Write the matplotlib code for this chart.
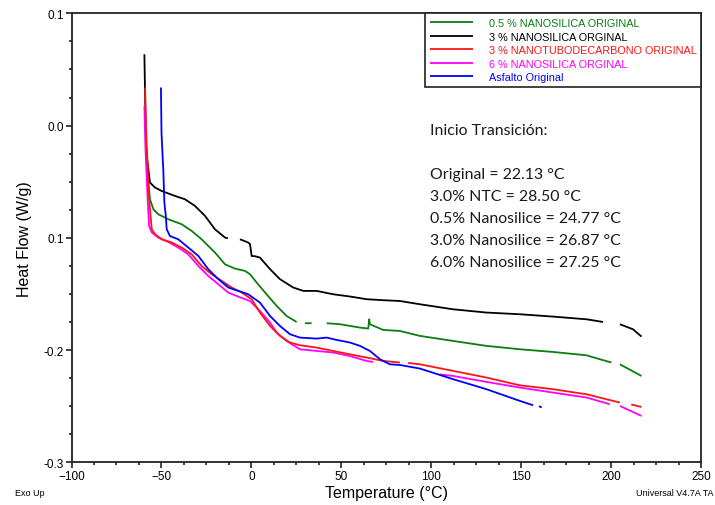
import numpy as np
import matplotlib
matplotlib.use("Agg")
import matplotlib.pyplot as plt
from matplotlib.ticker import MultipleLocator, FixedLocator, FixedFormatter

nan = np.nan

# DSC heat-flow traces (Temperature °C, Heat Flow W/g); nan marks breaks in a trace
t_black = [-59.5, -58.6, -57.3, -56.4, -53.6, -49.9, -42.5, -36.9, -31.4, -25.8, -20.3, -14.7, -13.1, -10.0,
           -6.4, -1.8, -0.8, 0.1, 1.9, 4.7, 10.3, 15.8, 23.2, 28.8, 36.2, 45.4, 54.7, 64.0, 73.2, 82.5,
           93.6, 112.1, 130.6, 149.1, 167.6, 186.2, 195.4, 200.0, 204.7, 212.0, 216.7]
hf_black = [0.0635, -0.021, -0.0389, -0.0508, -0.0552, -0.0583, -0.0627, -0.0657, -0.0716, -0.0805, -0.0924,
            -0.0998, -0.1004, nan, -0.1013, -0.1042, -0.1057, -0.1162, -0.1164, -0.1176, -0.1279, -0.1368,
            -0.1443, -0.1473, -0.1473, -0.1503, -0.1523, -0.1547, -0.1556, -0.1563, -0.1592, -0.1637,
            -0.1666, -0.1681, -0.1702, -0.1726, -0.1750, nan, -0.1770, -0.1815, -0.1880]

t_green = [-57.8, -57.3, -56.4, -54.5, -51.8, -46.2, -38.8, -33.2, -27.7, -20.3, -14.7, -9.2, -3.6, -0.8,
           2.9, 8.4, 14.0, 19.5, 25.1, 27.5, 29.7, 33.4, 37.5, 41.8, 49.2, 60.3, 64.9, 65.4, 65.8, 73.2,
           82.5, 93.6, 112.1, 130.6, 149.1, 167.6, 186.2, 193.6, 200.0, 202.0, 204.7, 216.7]
hf_green = [-0.0407, -0.0508, -0.0657, -0.0746, -0.0790, -0.0835, -0.0879, -0.0939, -0.1013, -0.1131,
            -0.1236, -0.1274, -0.1295, -0.1325, -0.1399, -0.1503, -0.1607, -0.1696, -0.1750, nan,
            -0.1761, -0.1761, nan, -0.1761, -0.1770, -0.1800, -0.1808, -0.1726, -0.1770, -0.1821,
            -0.1830, -0.1874, -0.1919, -0.1963, -0.1993, -0.2017, -0.2047, -0.2082, -0.2111, nan,
            -0.2127, -0.2231]

t_red = [-59.1, -58.6, -57.6, -57.3, -56.4, -55.4, -53.6, -49.9, -44.3, -38.8, -33.2, -27.7, -22.1, -16.5,
         -11.0, -5.4, 0.1, 4.7, 10.3, 15.8, 21.4, 26.9, 36.2, 45.4, 54.7, 64.0, 73.2, 82.5, 85.0, 87.0,
         93.6, 112.1, 130.6, 149.1, 167.6, 186.2, 204.7, 208.0, 211.0, 216.7]
hf_red = [0.0339, -0.0033, -0.0389, -0.0567, -0.0746, -0.0924, -0.0968, -0.1013, -0.1042, -0.1087, -0.1147,
          -0.1251, -0.1325, -0.1384, -0.1443, -0.1488, -0.1547, -0.1666, -0.1785, -0.1874, -0.1933, -0.1957,
          -0.1978, -0.2008, -0.2038, -0.2067, -0.2097, -0.2111, nan, -0.2115, -0.2127, -0.2186, -0.2245,
          -0.2314, -0.2349, -0.2394, -0.2468, nan, -0.2485, -0.2507]

t_mag = [-59.5, -58.9, -57.6, -56.9, -55.4, -51.8, -46.2, -40.7, -35.1, -29.5, -24.0, -18.4, -12.9, -6.4,
         -0.8, 4.7, 10.3, 14.0, 19.5, 26.9, 36.2, 45.4, 54.7, 64.0, 67.6, 80.0, 104.8, 112.1, 130.6, 149.1,
         167.6, 186.2, 199.1, 201.5, 204.7, 216.7]
hf_mag = [0.0175, -0.0211, -0.0686, -0.0894, -0.0953, -0.0998, -0.1037, -0.1087, -0.1147, -0.1251, -0.1340,
          -0.1414, -0.1488, -0.1530, -0.1563, -0.1652, -0.1755, -0.1844, -0.1919, -0.1993, -0.2008, -0.2022,
          -0.2053, -0.2097, -0.2106, nan, -0.2217, -0.2231, -0.2284, -0.2334, -0.2379, -0.2423, -0.2483,
          nan, -0.2498, -0.2587]

t_blue = [-50.3, -50.0, -49.3, -49.0, -48.4, -47.6, -47.1, -45.3, -40.7, -35.1, -29.5, -24.0, -18.4, -12.9,
          -7.3, -1.8, 4.7, 10.3, 15.8, 21.4, 26.9, 36.2, 41.8, 47.3, 54.7, 60.3, 65.8, 71.4, 76.9, 82.5,
          93.6, 112.1, 130.6, 149.1, 156.5, 158.0, 159.7, 161.3]
hf_blue = [0.0339, -0.0062, -0.0300, -0.0389, -0.0686, -0.0805, -0.0924, -0.0984, -0.1013, -0.1087, -0.1162,
           -0.1280, -0.1369, -0.1443, -0.1473, -0.1503, -0.1577, -0.1696, -0.1785, -0.1859, -0.1889, -0.1898,
           -0.1889, -0.1910, -0.1933, -0.1963, -0.2008, -0.2082, -0.2127, -0.2133, -0.2165, -0.2260, -0.2349,
           -0.2453, -0.2492, nan, -0.2501, -0.2510]

series = [
    (t_green, hf_green, "#0b7d12", "0.5 % NANOSILICA ORIGINAL"),
    (t_black, hf_black, "#000000", "3 % NANOSILICA ORGINAL"),
    (t_red, hf_red, "#ff1414", "3 % NANOTUBODECARBONO ORIGINAL"),
    (t_mag, hf_mag, "#ff00ff", "6 % NANOSILICA ORGINAL"),
    (t_blue, hf_blue, "#0000ff", "Asfalto Original"),
]
draw_order = [0, 1, 3, 2, 4]

y_ticks = [0.1, 0.0, -0.1, -0.2, -0.3]
y_tick_labels = ["0.1", "0.0", "0.1", "-0.2", "-0.3"]
x_ticks = [-100, -50, 0, 50, 100, 150, 200, 250]

note_title = "Inicio Transición:"
note_lines = ["Original = 22.13 °C",
              "3.0% NTC = 28.50 °C",
              "0.5% Nanosilice = 24.77 °C",
              "3.0% Nanosilice = 26.87 °C",
              "6.0% Nanosilice = 27.25 °C"]

plt.rcParams["font.family"] = ["Liberation Sans", "DejaVu Sans"]

W, H = 715, 506
fig = plt.figure(figsize=(W / 100, H / 100), dpi=100)
ax = fig.add_axes([0.100, 0.0844, 0.881, 0.8873])

lines = {}
for i in draw_order:
    t, hf, c, lab = series[i]
    ln, = ax.plot(t, hf, color=c, lw=1.3, label=lab, solid_capstyle="butt")
    lines[i] = ln

ax.set_xlim(-100, 250)
ax.set_ylim(-0.3, 0.1)
ax.yaxis.set_major_locator(FixedLocator(y_ticks))
ax.yaxis.set_major_formatter(FixedFormatter(y_tick_labels))
ax.yaxis.set_minor_locator(MultipleLocator(0.025))
ax.xaxis.set_major_locator(FixedLocator(x_ticks))
ax.xaxis.set_minor_locator(MultipleLocator(12.5))
ax.tick_params(which="major", direction="out", length=4, width=1.2, labelsize=8.5, pad=1.5, color="#222222")
ax.tick_params(which="minor", direction="out", length=2.5, width=1.2, color="#222222")
for sp in ax.spines.values():
    sp.set_linewidth(1.3)
    sp.set_color("#222222")

ax.set_ylabel("Heat Flow (W/g)", fontsize=11.5, labelpad=8)
ax.set_xlabel("Temperature (°C)", fontsize=11.5, labelpad=2)

handles = [lines[i] for i in range(5)]
leg = ax.legend(handles=handles, loc="upper right", bbox_to_anchor=(1.0, 1.0), borderaxespad=0,
                fontsize=7.8, frameon=True, fancybox=False, edgecolor="#222222", framealpha=1,
                handlelength=3.9, handletextpad=1.5, labelspacing=0.32, borderpad=0.45,
                labelcolor="linecolor")
leg.get_frame().set_linewidth(1.2)

note_font = dict(family=["Lato", "DejaVu Sans"], fontsize=11.4, va="center", ha="left", color="#1a1a1a")
fig.text(430 / W, 1 - 131 / H, note_title, **note_font)
for k, txt in enumerate(note_lines):
    fig.text(430 / W, 1 - (175 + 22 * k) / H, txt, **note_font)

fig.text(15 / W, 1 - 494 / H, "Exo Up", fontsize=6.5, va="center", ha="left")
fig.text(713 / W, 1 - 494 / H, "Universal V4.7A TA", fontsize=6.5, va="center", ha="right")

fig.savefig("out.png", dpi=100)
